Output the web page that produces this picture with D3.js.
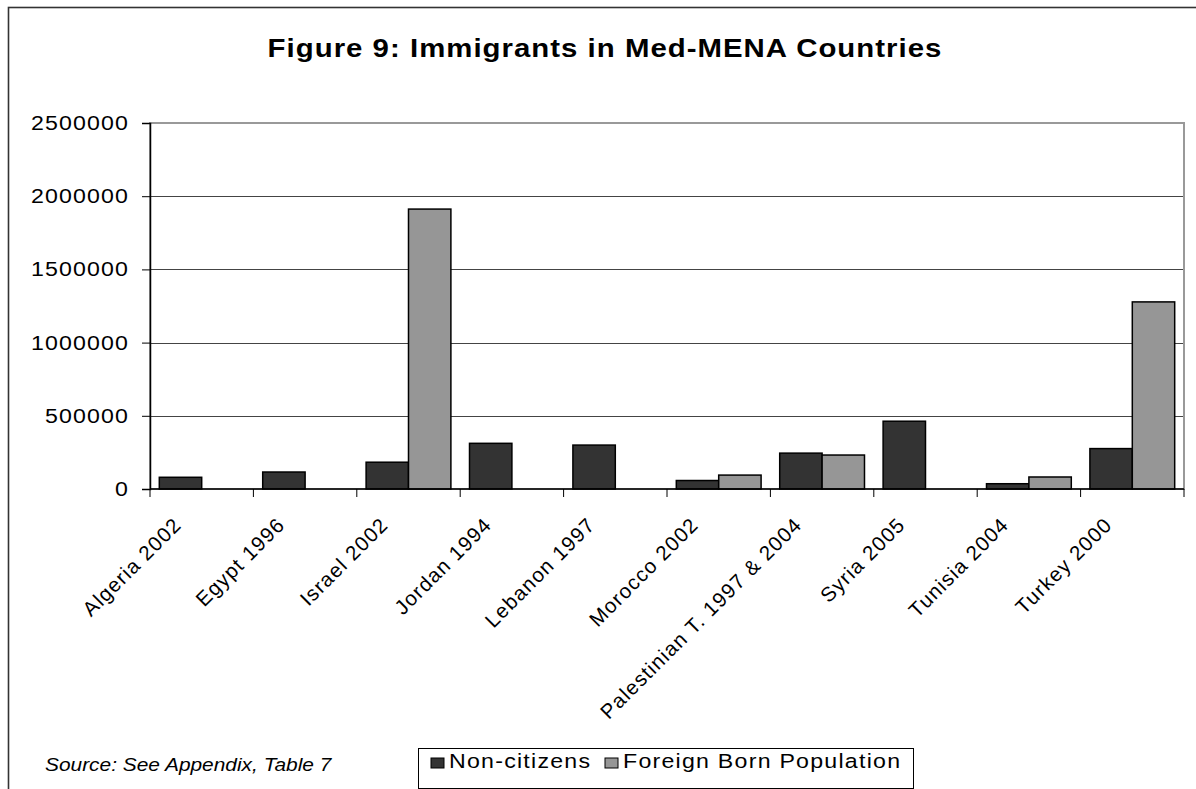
<!DOCTYPE html>
<html lang="en">
	<head>
		<meta charset="utf-8">
		<title>Figure 9: Immigrants in Med-MENA Countries</title>
		<script src="https://cdn.jsdelivr.net/npm/d3@7"></script>
		<style type="text/css">
			body { margin: 0; background: #fff; }
			text { font-family: "Liberation Sans", Arial, sans-serif; fill: #000; }
		</style>
	</head>
	<body>
		<script type="text/javascript">

			//Chart data
			let categories = ["Algeria 2002", "Egypt 1996", "Israel 2002", "Jordan 1994", "Lebanon 1997",
							  "Morocco 2002", "Palestinian T. 1997 & 2004", "Syria 2005", "Tunisia 2004", "Turkey 2000"];
			let nonCitizens = [80000, 116000, 183000, 312000, 300000, 58000, 245000, 463000, 36000, 276000];
			let foreignBorn = [null, null, 1912000, null, null, 95000, 232000, null, 82000, 1278000];
			let seriesNames = ["Non-citizens", "Foreign Born Population"];
			let seriesColors = ["#333333", "#969696"];
			let yTicks = [0, 500000, 1000000, 1500000, 2000000, 2500000];

			//Width and height
			let w = 1196;
			let h = 789;
			let plot = { left: 150, right: 1184, top: 123, bottom: 489 };

			//The original chart was stretched sideways a little
			let stretch = 1.13;

			//Create SVG element
			let svg = d3.select("body")
						.append("svg")
						.attr("width", w)
						.attr("height", h);

			//Helper for horizontal text drawn with the sideways stretch
			function wideText(parent, tx, ty, str, anchor) {
				return parent.append("text")
							 .attr("transform", "translate(" + tx + "," + ty + ") scale(" + stretch + ",1)")
							 .attr("text-anchor", anchor || "start")
							 .text(str);
			}

			//Outer chart frame (runs off the right and bottom of the picture)
			svg.append("rect")
			   .attr("x", 8.5)
			   .attr("y", 7.5)
			   .attr("width", 1300)
			   .attr("height", 900)
			   .attr("fill", "none")
			   .attr("stroke", "#333")
			   .attr("stroke-width", 1.6);

			//Title
			wideText(svg, 605, 57, "Figure 9: Immigrants in Med-MENA Countries", "middle")
			   .style("font-size", "26px")
			   .style("font-weight", "bold")
			   .style("letter-spacing", "0.9px");

			//Scales
			let x = d3.scaleBand()
					  .domain(categories)
					  .range([plot.left, plot.right])
					  .padding(0);

			let groupPad = x.step() * 0.09;
			let x1 = d3.scaleBand()
					   .domain(seriesNames)
					   .range([groupPad, x.step() - groupPad]);

			let y = d3.scaleLinear()
					  .domain([0, 2500000])
					  .range([plot.bottom, plot.top]);

			//Gridlines
			svg.append("g")
			   .attr("transform", "translate(" + plot.left + ",0)")
			   .call(d3.axisLeft(y).tickValues(yTicks.slice(1, -1)).tickSize(-(plot.right - plot.left)).tickFormat(""))
			   .call(g => g.select(".domain").remove())
			   .call(g => g.selectAll("line").attr("stroke", "#444").attr("shape-rendering", "crispEdges"));

			//Plot area border (grey)
			svg.append("rect")
			   .attr("x", plot.left)
			   .attr("y", plot.top)
			   .attr("width", plot.right - plot.left)
			   .attr("height", plot.bottom - plot.top)
			   .attr("fill", "none")
			   .attr("stroke", "#999")
			   .attr("stroke-width", 2);

			//Bars
			let rows = categories.map((c, i) => ({ cat: c, values: [nonCitizens[i], foreignBorn[i]] }));

			let groups = svg.selectAll("g.group")
							.data(rows)
							.enter()
							.append("g")
							.attr("class", "group")
							.attr("transform", d => "translate(" + x(d.cat) + ",0)");

			groups.selectAll("rect")
				  .data(d => d.values.map((v, k) => ({ name: seriesNames[k], value: v, k: k })).filter(e => e.value != null))
				  .enter()
				  .append("rect")
				  .attr("x", d => x1(d.name))
				  .attr("y", d => y(d.value))
				  .attr("width", x1.bandwidth())
				  .attr("height", d => y(0) - y(d.value))
				  .attr("fill", d => seriesColors[d.k])
				  .attr("stroke", "#000")
				  .attr("stroke-width", 1.5);

			//Y axis
			svg.append("g")
			   .attr("transform", "translate(" + plot.left + ",0)")
			   .call(d3.axisLeft(y).tickValues(yTicks).tickSize(8).tickFormat(d3.format("d")))
			   .call(g => g.select(".domain").attr("stroke", "#000").attr("stroke-width", 1.5))
			   .call(g => g.selectAll("line").attr("stroke", "#000"))
			   .call(g => g.selectAll("text")
							.attr("font-family", null)
							.attr("x", null)
							.attr("transform", "translate(-21,0) scale(" + stretch + ",1)")
							.style("font-size", "20.5px")
							.style("letter-spacing", "1px"));

			//X axis line and ticks at category boundaries
			svg.append("line")
			   .attr("x1", plot.left)
			   .attr("x2", plot.right)
			   .attr("y1", y(0))
			   .attr("y2", y(0))
			   .attr("stroke", "#000")
			   .attr("stroke-width", 1.5);

			let boundaries = categories.map(c => x(c)).concat([plot.right]);
			svg.selectAll("line.xtick")
			   .data(boundaries)
			   .enter()
			   .append("line")
			   .attr("class", "xtick")
			   .attr("x1", d => d)
			   .attr("x2", d => d)
			   .attr("y1", y(0))
			   .attr("y2", y(0) + 8)
			   .attr("stroke", "#000")
			   .attr("stroke-width", 1);

			//Rotated category labels
			svg.selectAll("text.xlabel")
			   .data(categories)
			   .enter()
			   .append("text")
			   .attr("class", "xlabel")
			   .attr("text-anchor", "end")
			   .attr("transform", d => "translate(" + (x(d) + x.step() / 2 - 19) + "," + (y(0) + 37) + ") rotate(-45)")
			   .style("font-size", "20.5px")
			   .style("letter-spacing", "1.2px")
			   .text(d => d);

			//Source note
			wideText(svg, 45, 771, "Source: See Appendix, Table 7")
			   .style("font-size", "18.5px")
			   .style("font-style", "italic");

			//Legend
			let legend = svg.append("g");
			legend.append("rect")
				  .attr("x", 418.5)
				  .attr("y", 748.5)
				  .attr("width", 495)
				  .attr("height", 40)
				  .attr("fill", "#fff")
				  .attr("stroke", "#000")
				  .attr("stroke-width", 1);

			let legendX = [431, 605];
			seriesNames.forEach((name, k) => {
				legend.append("rect")
					  .attr("x", legendX[k])
					  .attr("y", 758)
					  .attr("width", 13)
					  .attr("height", 10)
					  .attr("fill", seriesColors[k])
					  .attr("stroke", "#000")
					  .attr("stroke-width", 1);
				wideText(legend, legendX[k] + 18, 768, name)
					  .style("font-size", "20.5px")
					  .style("letter-spacing", "1.1px");
			});

		</script>
	</body>
</html>
